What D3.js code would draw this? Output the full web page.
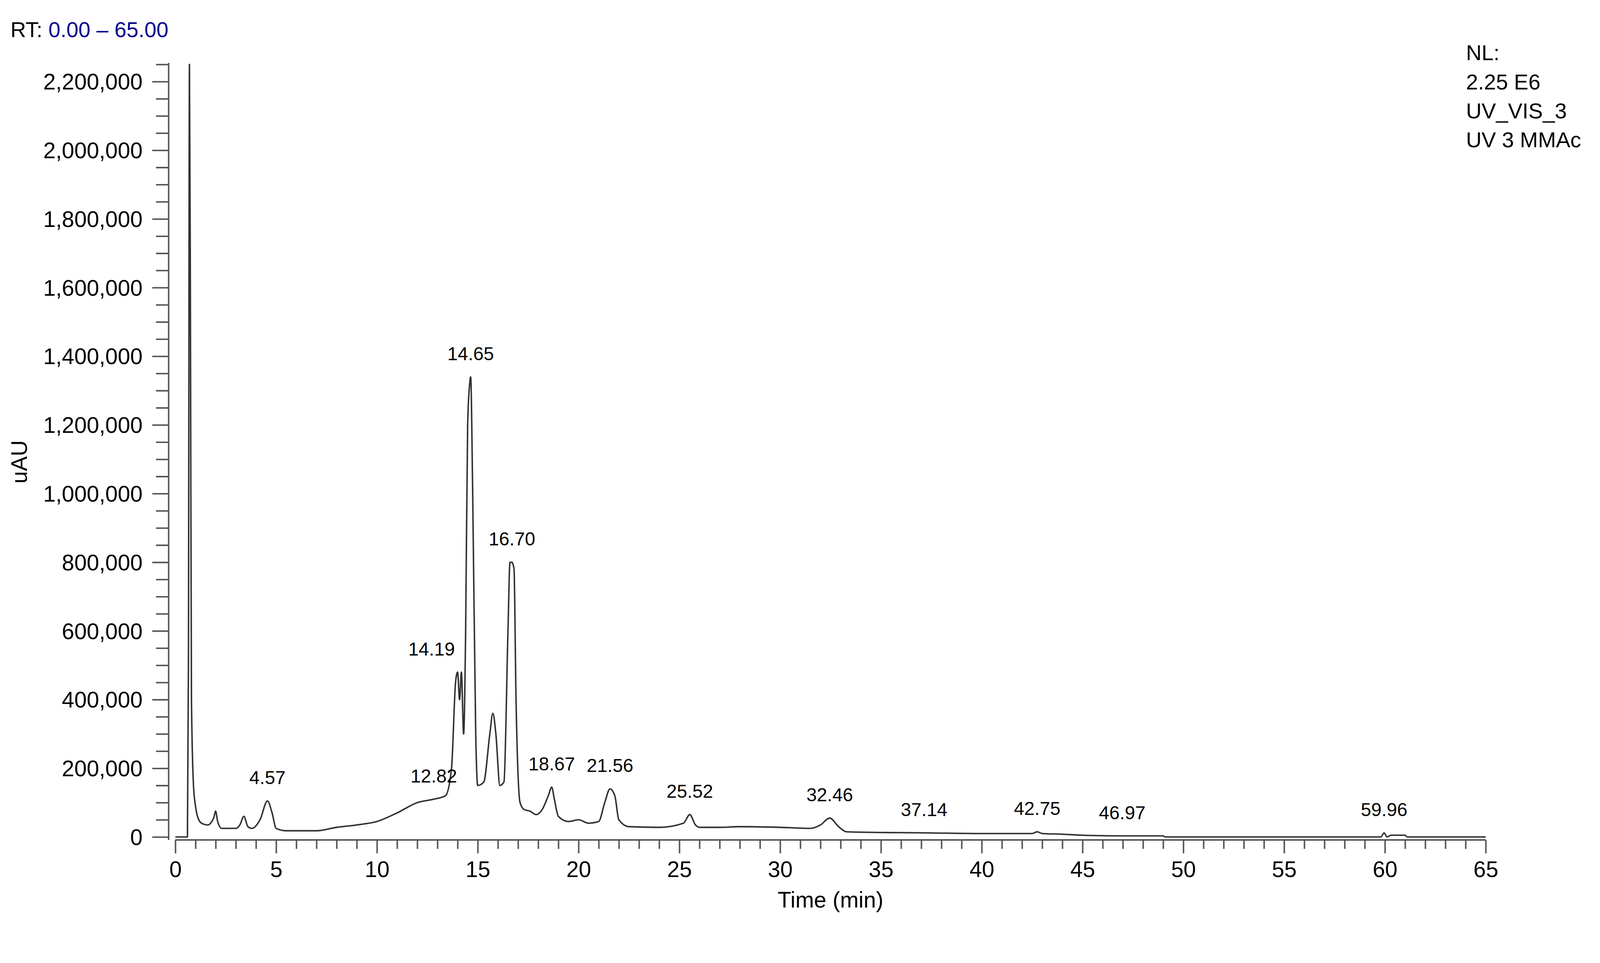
<!DOCTYPE html>
<html>
<head>
<meta charset="utf-8">
<script src="https://cdn.jsdelivr.net/npm/d3@7"></script>
<style>
  html, body { margin: 0; padding: 0; background: #fff; overflow: hidden; }
  svg { display: block; }
  text { font-family: "Liberation Sans", Arial, sans-serif; }
</style>
</head>
<body>
<div id="chart"></div>
<script>
// chromatogram trace
var times = [0, 0.6, 0.65, 0.7, 0.75, 0.8, 0.9, 1.0, 1.1, 1.3, 1.6, 1.9, 2.0, 2.1, 2.3, 3.0, 3.2, 3.4, 3.6, 3.8,
  4.2, 4.57, 4.8, 5.0, 5.5, 7.0, 8.0, 9, 10, 11, 12, 12.82, 13.4, 13.7, 13.9, 14.0, 14.1, 14.19, 14.3, 14.4,
  14.5, 14.6, 14.65, 14.75, 14.9, 15.0, 15.3, 15.6, 15.75, 15.9, 16.1, 16.3, 16.5, 16.6, 16.7, 16.8, 16.9, 17.1,
  17.3, 17.6, 17.9, 18.2, 18.5, 18.67, 18.8, 19.0, 19.5, 20, 20.5, 21.0, 21.3, 21.56, 21.8, 22.0, 22.5, 24,
  25.2, 25.52, 25.8, 26, 27, 28, 30, 31.5, 32.0, 32.46, 32.9, 33.3, 35, 37.14, 40, 42.5, 42.75, 43, 44, 45,
  46.97, 49, 49.1, 59.8, 59.96, 60.1, 60.3, 61, 61.1, 65];
var intensity = [0, 0, 500000, 2250000, 1500000, 400000, 150000, 90000, 60000, 40000, 35000, 55000, 75000, 45000, 25000, 25000, 35000, 60000, 30000, 25000,
  50000, 105000, 70000, 25000, 18000, 18000, 28000, 35000, 45000, 70000, 100000, 110000, 120000, 200000, 450000, 480000, 400000, 480000, 300000, 600000,
  1200000, 1320000, 1340000, 1000000, 300000, 150000, 160000, 300000, 360000, 300000, 150000, 160000, 600000, 800000, 800000, 780000, 400000, 100000,
  80000, 75000, 65000, 80000, 120000, 145000, 110000, 60000, 45000, 50000, 40000, 45000, 100000, 140000, 120000, 50000, 30000, 28000,
  40000, 65000, 35000, 28000, 28000, 30000, 28000, 25000, 35000, 55000, 30000, 15000, 13000, 12000, 10000, 10000, 15000, 10000, 8000, 5000,
  3000, 3000, 0, 0, 12000, 0, 5000, 5000, 0, 0];

// labelled peaks
var peakTimes = [4.57, 12.82, 14.19, 14.65, 16.70, 18.67, 21.56, 25.52, 32.46, 37.14, 42.75, 46.97, 59.96];
var peakValues = [105000, 110000, 480000, 1340000, 800000, 145000, 140000, 65000, 55000, 12000, 15000, 3000, 12000];

var infoLines = ["NL:", "2.25 E6", "UV_VIS_3", "UV 3 MMAc"];

var svgWidth = 4298, svgHeight = 2465;
var x0 = 471, x1 = 3991, yBase = 2248, yTop = 173;

var svg = d3.select("#chart").append("svg")
  .attr("viewBox", `0 0 ${svgWidth} ${svgHeight}`)
  .attr("preserveAspectRatio", "xMinYMin meet")
  .style("width", "100vw").style("height", "100vh");

var x = d3.scaleLinear().domain([0, 65]).range([x0, x1]);
var y = d3.scaleLinear().domain([0, 2250000]).range([yBase, yTop]);

var axisColor = "#555";

// x axis: major + minor ticks
var xAxis = svg.append("g").attr("transform", `translate(0, ${yBase + 8})`);
xAxis.call(d3.axisBottom(x).tickValues(d3.range(0, 66, 1)).tickSize(22).tickFormat(""));
xAxis.call(g => g.select(".domain").remove());
xAxis.append("line").attr("x1", x0).attr("x2", x1).attr("stroke", axisColor).attr("stroke-width", 4);
xAxis.selectAll(".tick line").attr("stroke", axisColor).attr("stroke-width", 4)
  .attr("y2", d => d % 5 === 0 ? 36 : 24);
xAxis.selectAll(".tick").filter(d => d % 5 === 0).append("text")
  .attr("y", 100).attr("fill", "#000").attr("font-size", 60).attr("text-anchor", "middle")
  .text(d => d);

// y axis
var axX = x0 - 18;
var yAxis = svg.append("g").attr("transform", `translate(${axX}, 0)`);
yAxis.call(d3.axisLeft(y).tickValues(d3.range(0, 2250001, 50000)).tickSize(34).tickFormat(""));
yAxis.call(g => g.select(".domain").remove());
yAxis.append("line").attr("y1", yBase + 8).attr("y2", yTop - 4).attr("stroke", axisColor).attr("stroke-width", 4);
yAxis.selectAll(".tick line").attr("stroke", axisColor).attr("stroke-width", 4)
  .attr("x2", d => d % 200000 === 0 ? -44 : -34);
yAxis.selectAll(".tick").filter(d => d % 200000 === 0 && d <= 2200000).append("text")
  .attr("x", -70).attr("dy", "0.35em").attr("fill", "#000").attr("font-size", 60).attr("text-anchor", "end")
  .text(d => d3.format(",")(d));

// trace
var data = times.map((t, i) => [t, intensity[i]]);
svg.append("path")
  .datum(data)
  .attr("fill", "none")
  .attr("stroke", "#333")
  .attr("stroke-width", 4)
  .attr("stroke-linejoin", "round")
  .attr("d", d3.line().curve(d3.curveMonotoneX).x(d => x(d[0])).y(d => y(d[1])));

// peak labels (14.19 is pushed left of its peak, as in the original)
svg.selectAll(".peak").data(peakTimes).enter().append("text")
  .attr("x", d => x(d) + (d === 14.19 ? -80 : 0))
  .attr("y", (d, i) => y(peakValues[i]) - 45)
  .attr("text-anchor", "middle").attr("font-size", 50).attr("fill", "#000")
  .text(d => d.toFixed(2));

// header texts
var rt = svg.append("text").attr("x", 28).attr("y", 100).attr("font-size", 58);
rt.append("tspan").attr("fill", "#000").text("RT: ");
rt.append("tspan").attr("fill", "#00008b").text("0.00 – 65.00");

svg.selectAll(".info").data(infoLines).enter().append("text")
  .attr("x", 3938).attr("y", (d, i) => 162 + i * 78)
  .attr("font-size", 58).attr("fill", "#000").text(d => d);

svg.append("text")
  .attr("x", x(32.5)).attr("y", 2438)
  .attr("text-anchor", "middle").attr("font-size", 60).text("Time (min)");

svg.append("text")
  .attr("transform", `translate(72, ${(yBase + yTop) / 2 + 30}) rotate(-90)`)
  .attr("text-anchor", "middle").attr("font-size", 60).text("uAU");
</script>
</body>
</html>
